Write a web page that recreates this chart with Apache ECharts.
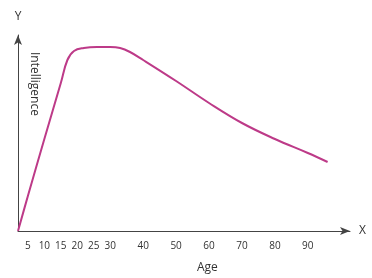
<!DOCTYPE html>
<html>
<head>
<meta charset="utf-8">
<script src="https://cdn.jsdelivr.net/npm/echarts@6/dist/echarts.min.js"></script>
<style>
html,body{margin:0;padding:0;background:#fff;}
#c{width:372px;height:278px;}
</style>
</head>
<body>
<div id="c"></div>
<script>
// Data
var ages = [2, 5, 10, 15, 17, 19, 22, 26, 30, 33, 36, 40, 50, 60, 70, 80, 90, 96];
var intelligence = [0, 35, 92, 148, 171, 180, 183, 184, 184, 183, 179, 171, 150, 128, 108, 92, 78, 69];
var xTickLabels = [5, 10, 15, 20, 25, 30, 40, 50, 60, 70, 80, 90];

var points = ages.map(function (a, i) { return [a, intelligence[i]]; });

var chart = echarts.init(document.getElementById('c'), null, {renderer: 'canvas'});
chart.setOption({
  animation: false,
  backgroundColor: '#ffffff',
  grid: {left: 18, right: 22, top: 35, bottom: 47, containLabel: false},
  xAxis: {
    type: 'value',
    min: 2,
    max: 102.8,
    name: 'X',
    nameLocation: 'end',
    nameGap: 9,
    nameTextStyle: {color: '#333', fontSize: 12, fontFamily: 'Open Sans', verticalAlign: 'middle'},
    splitLine: {show: false},
    axisTick: {show: false},
    axisLine: {show: true, lineStyle: {color: '#444', width: 1}, symbol: ['none', 'arrow'], symbolSize: [6, 10], symbolOffset: [0, 0]},
    axisLabel: {
      customValues: xTickLabels,
      color: '#333',
      fontSize: 10,
      fontFamily: 'Open Sans',
      margin: 10
    }
  },
  yAxis: {
    type: 'value',
    min: 0,
    max: 196,
    name: 'Y',
    nameLocation: 'end',
    nameGap: 12,
    nameTextStyle: {color: '#333', fontSize: 12, fontFamily: 'Open Sans', align: 'center'},
    splitLine: {show: false},
    axisTick: {show: false},
    axisLabel: {show: false},
    axisLine: {show: true, lineStyle: {color: '#444', width: 1}, symbol: ['none', 'arrow'], symbolSize: [6, 10]}
  },
  graphic: [
    {type: 'text', left: 197, top: 262, style: {text: 'Age', fill: '#333', font: '12px "Open Sans"'}},
    {type: 'text', x: 28, y: 52, rotation: -Math.PI / 2, style: {text: 'Intelligence', fill: '#333', font: '12px "Open Sans"', textAlign: 'left', textVerticalAlign: 'bottom'}}
  ],
  series: [{
    type: 'line',
    data: points,
    smooth: 0.4,
    showSymbol: false,
    lineStyle: {color: '#bd3a88', width: 2}
  }]
});
</script>
</body>
</html>
